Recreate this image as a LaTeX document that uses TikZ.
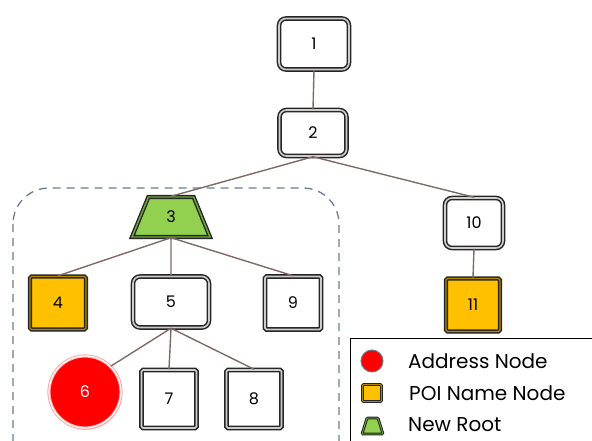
\documentclass[tikz,border=0pt]{standalone}
\usepackage{fontspec}
\setmainfont{Poppins}
\usetikzlibrary{shapes.geometric,shadows}
\definecolor{poi}{HTML}{FFC000}
\definecolor{poidark}{HTML}{B08600}
\definecolor{rootgreen}{HTML}{92D050}
\definecolor{rootdark}{HTML}{6FA83A}
\definecolor{edgecol}{HTML}{7E6A66}
\definecolor{groupcol}{HTML}{667E94}
\tikzset{
  x=1pt, y=-1pt,
  base/.style={font=\fontsize{16}{19}\selectfont, inner sep=0pt,
    drop shadow={opacity=0.3, shadow xshift=1pt, shadow yshift=-2pt}},
  roundbox/.style={base, rectangle, rounded corners=7pt, fill=white,
    draw=black!85, line width=1.5pt, double=white!80!black, double distance=1.6pt},
  squarebox/.style={base, rectangle, rounded corners=1.5pt, fill=white,
    draw=black!85, line width=1.5pt, double=white!80!black, double distance=1.6pt},
  poibox/.style={base, rectangle, rounded corners=1.5pt, fill=poi,
    draw=black!85, line width=1.4pt, double=poidark, double distance=1.4pt},
  rootbox/.style={base, trapezium, trapezium stretches=true,
    trapezium left angle=74, trapezium right angle=74, fill=rootgreen,
    draw=black!85, line width=1.4pt, double=rootdark, double distance=1.4pt},
  addrnode/.style={base, circle, fill=red, draw=red!35, line width=1pt,
    double=white, double distance=1.2pt, text=white},
  link/.style={draw=edgecol, line width=1.4pt},
  legtext/.style={font=\fontsize{20}{24}\selectfont, anchor=west, inner sep=0pt}
}
\begin{document}
\begin{tikzpicture}
\useasboundingbox (0,0) rectangle (592,441);
\clip (0,0) rectangle (592,441);
\fill[white] (0,0) rectangle (592,441);

% subtree of the new root
\draw[groupcol, line width=1.3pt, dash pattern=on 8pt off 6pt, rounded corners=36pt]
  (13,188) rectangle (339,480);

% node centres
\coordinate (c1) at (314,44);
\coordinate (c2) at (313,133);
\coordinate (c3) at (171,217);
\coordinate (c10) at (474,223);
\coordinate (c11) at (473,305);
\coordinate (c4) at (58,303);
\coordinate (c5) at (171,302);
\coordinate (c9) at (293,303);
\coordinate (c6) at (85,392);
\coordinate (c7) at (169,399);
\coordinate (c8) at (254,399);

% tree nodes
\node[roundbox, minimum width=70, minimum height=51] (n1) at (c1) {1};
\node[roundbox, minimum width=67, minimum height=46] (n2) at (c2) {2};
\node[rootbox, minimum width=78, minimum height=40] (n3) at (c3) {3};
\node[roundbox, minimum width=58, minimum height=50] (n10) at (c10) {10};
\node[poibox, minimum width=54, minimum height=53] (n11) at (c11) {11};
\node[poibox, minimum width=56, minimum height=53] (n4) at (c4) {4};
\node[roundbox, minimum width=76, minimum height=51] (n5) at (c5) {5};
\node[squarebox, minimum width=56, minimum height=53] (n9) at (c9) {9};
\node[addrnode, minimum size=72] (n6) at (c6) {6};
\node[squarebox, minimum width=55, minimum height=58] (n7) at (c7) {7};
\node[squarebox, minimum width=55, minimum height=58] (n8) at (c8) {8};

% links
\draw[link] (n1.south) -- (n2.north);
\draw[link] (n2.south) -- (n3.north);
\draw[link] (n2.south) -- (n10.north);
\draw[link] (n3.south) -- (n4.north);
\draw[link] (n3.south) -- (n5.north);
\draw[link] (n3.south) -- (n9.north);
\draw[link] (n5.south) -- (n6.north east);
\draw[link] (n5.south) -- (n7.north);
\draw[link] (n5.south) -- (n8.north);
\draw[link] (n10.south) -- (n11.north);

% legend
\node[draw=black, line width=1.2pt, fill=white, minimum width=260, minimum height=120,
  anchor=north west, inner sep=0pt] (legend) at (350,338) {};
\node[circle, fill=red, draw=groupcol, line width=1pt, minimum size=22, inner sep=0pt]
  (keyaddr) at (372,361) {};
\node[rectangle, rounded corners=1pt, fill=poi, draw=black!85, line width=1pt,
  double=poidark, double distance=0.8pt, minimum width=19, minimum height=17, inner sep=0pt]
  (keypoi) at (372,393) {};
\draw[fill=rootgreen, draw=black!85, line width=1pt, double=rootdark,
  double distance=0.8pt, rounded corners=1pt]
  (362,434) -- (367,418) -- (378,418) -- (383,434) -- cycle;
\node[legtext] (lblAddr) at (408,361) {Address Node};
\node[legtext] (lblPoi) at (409,393) {POI Name Node};
\node[legtext] (lblRoot) at (408,425) {New Root};
\end{tikzpicture}
\end{document}
